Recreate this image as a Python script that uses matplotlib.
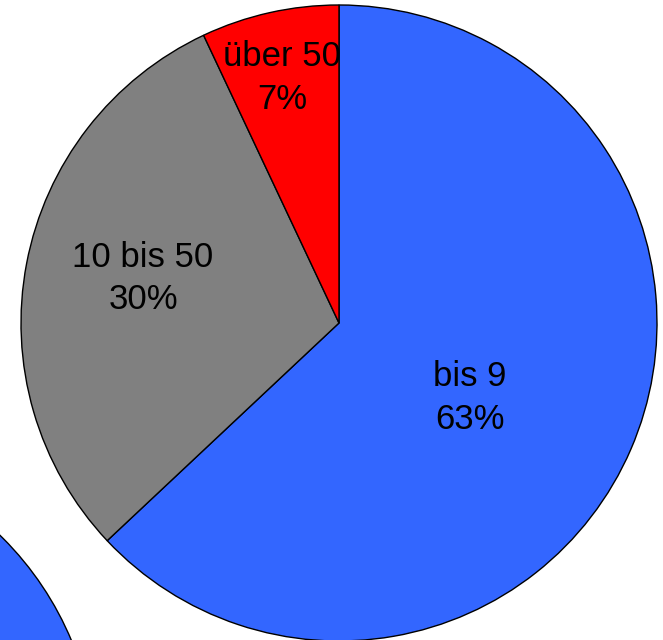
import numpy as np
import matplotlib
matplotlib.use("Agg")
import matplotlib.pyplot as plt

plt.rcParams['font.family'] = ['Liberation Sans', 'DejaVu Sans']

categories = ["bis 9", "10 bis 50", "über 50"]
values = [63, 30, 7]
colors = ["#3366FF", "#808080", "#FF0000"]

second_values = [100]
second_colors = ["#3366FF"]

# label placement (fraction of radius, angular offset from wedge bisector in degrees)
label_dist = [0.475, 0.632, 0.79]
label_shift = [-6.4, -2.0, 0.5]

W, H = 663, 640
fig = plt.figure(figsize=(W / 100, H / 100), dpi=100)
ax = fig.add_axes([0, 0, 1, 1])

R = 318
center = (339, 317)

# partially visible second pie in bottom-left
ax.pie(second_values, colors=second_colors, center=(-222, -123), radius=R,
       startangle=90, counterclock=False,
       wedgeprops=dict(edgecolor='black', linewidth=1.0), frame=True)

wedges, _ = ax.pie(values, colors=colors, center=center, radius=R,
                   startangle=90, counterclock=False,
                   wedgeprops=dict(edgecolor='black', linewidth=1.0), frame=True)

total = sum(values)
for w, cat, v, d, s in zip(wedges, categories, values, label_dist, label_shift):
    ang = np.deg2rad((w.theta1 + w.theta2) / 2 + s)
    x = center[0] + d * R * np.cos(ang)
    y = center[1] + d * R * np.sin(ang)
    ax.text(x, y, f"{cat}\n{round(100 * v / total)}%", ha='center', va='center',
            fontsize=25, linespacing=1.38, color='black')

ax.set_xlim(0, W)
ax.set_ylim(0, H)
ax.set_aspect('equal')
ax.axis('off')
fig.savefig("out.png", dpi=100)
